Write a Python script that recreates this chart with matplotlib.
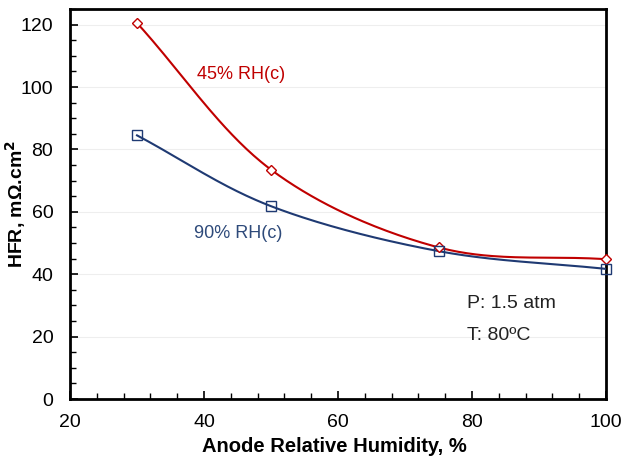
import numpy as np
import matplotlib
matplotlib.use("Agg")
import matplotlib.pyplot as plt
from matplotlib.ticker import MultipleLocator

plt.rcParams['font.family'] = ['Liberation Sans', 'DejaVu Sans']

x_rh = [30, 50, 75, 100]
hfr_45 = [120.5, 73.5, 48.6, 44.8]
hfr_90 = [84.5, 61.8, 47.4, 41.7]

def smooth(xs, ys, n=60):
    # Catmull-Rom spline through the points (Excel-like smoothed line)
    P = np.column_stack([xs, ys]).astype(float)
    P = np.vstack([2 * P[0] - P[1], P, 2 * P[-1] - P[-2]])
    out = []
    for i in range(1, len(P) - 2):
        p0, p1, p2, p3 = P[i - 1], P[i], P[i + 1], P[i + 2]
        t = np.linspace(0, 1, n)[:, None]
        seg = 0.5 * ((2 * p1) + (-p0 + p2) * t + (2 * p0 - 5 * p1 + 4 * p2 - p3) * t ** 2
                     + (-p0 + 3 * p1 - 3 * p2 + p3) * t ** 3)
        out.append(seg)
    s = np.vstack(out)
    return s[:, 0], s[:, 1]

red = '#C00000'
navy = '#1F3A73'

fig = plt.figure(figsize=(6.23, 4.57), dpi=100)
ax = fig.add_axes([0.1124, 0.1269, 0.8603, 0.8534])

sx, sy = smooth(x_rh, hfr_45)
ax.plot(sx, sy, color=red, lw=1.5, zorder=3)
ax.plot(x_rh, hfr_45, ls='none', marker='D', ms=5, mfc='white', mec=red, mew=1.0,
        zorder=4, clip_on=False)
sx, sy = smooth(x_rh, hfr_90)
ax.plot(sx, sy, color=navy, lw=1.5, zorder=3)
ax.plot(x_rh, hfr_90, ls='none', marker='s', ms=7, mfc='none', mec=navy, mew=1.0,
        zorder=4, clip_on=False)

ax.set_xlim(20, 100)
ax.set_ylim(0, 125)
ax.xaxis.set_major_locator(MultipleLocator(20))
ax.xaxis.set_minor_locator(MultipleLocator(4))
ax.yaxis.set_major_locator(MultipleLocator(20))
ax.yaxis.set_minor_locator(MultipleLocator(5))
ax.grid(True, which='major', axis='y', color='#EEEEEE', lw=0.8, zorder=0)
ax.set_axisbelow(True)

ax.tick_params(axis='both', which='major', direction='in', length=6, width=1.2, labelsize=14)
ax.tick_params(axis='both', which='minor', direction='in', length=4, width=1.0)
ax.tick_params(axis='y', which='major', pad=12)
ax.tick_params(axis='x', which='major', pad=11)
for sp in ax.spines.values():
    sp.set_linewidth(2)
    sp.set_color('black')

ax.set_xlabel('Anode Relative Humidity, %', fontsize=14.5, fontweight='bold')
ax.set_ylabel('HFR, mΩ.cm$\\mathbf{^2}$', fontsize=14, fontweight='bold')
ax.xaxis.set_label_coords(0.494, -0.098)
ax.yaxis.set_label_coords(-0.078, 0.5)

ax.text(39, 104, '45% RH(c)', color=red, fontsize=13, ha='left', va='center')
ax.text(38.5, 53, '90% RH(c)', color='#2E4A7A', fontsize=13, ha='left', va='center')
ax.text(79.3, 30.5, 'P: 1.5 atm', color='#222222', fontsize=14, ha='left', va='center')
ax.text(79.3, 20.5, 'T: 80ºC', color='#222222', fontsize=14, ha='left', va='center')

fig.savefig('out.png', dpi=100)
